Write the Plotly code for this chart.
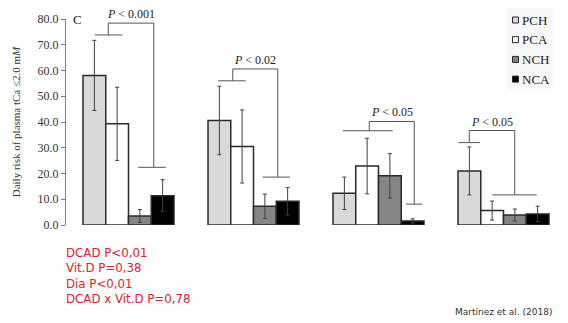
import plotly.graph_objects as go

# ---- data ----
groups = [0, 1, 2, 3]
series = ["PCH", "PCA", "NCH", "NCA"]
pch = [58.1, 40.6, 12.3, 21.0]
pch_err = [13.6, 13.3, 6.3, 9.3]
pca = [39.3, 30.5, 22.9, 5.6]
pca_err = [14.2, 14.2, 10.8, 3.7]
nch = [3.5, 7.3, 19.1, 3.9]
nch_err = [2.5, 4.7, 8.6, 2.3]
nca = [11.4, 9.2, 1.6, 4.3]
nca_err = [6.2, 5.3, 0.8, 3.0]
p_labels = ["<i>P</i> < 0.001", "<i>P</i> < 0.02", "<i>P</i> < 0.05", "<i>P</i> < 0.05"]
y_ticks = [0, 10, 20, 30, 40, 50, 60, 70, 80]
stats_text = ["DCAD P<0,01", "Vit.D P=0,38", "Dia P<0,01", "DCAD x Vit.D P=0,78"]
source_text = "Martinez et al. (2018)"

colors = ["#d9d9d9", "#ffffff", "#858585", "#000000"]
values = [pch, pca, nch, nca]
errors = [pch_err, pca_err, nch_err, nca_err]

SERIF = "Liberation Serif, Times New Roman, serif"
EDGE = "#2a2a2a"

fig = go.Figure()
for name, vals, errs, col in zip(series, values, errors, colors):
    fig.add_trace(go.Bar(
        x=groups, y=vals, name=name,
        marker=dict(color=col, line=dict(color=EDGE, width=1.5)),
        error_y=dict(type="data", array=errs, visible=True,
                     color="#404040", thickness=1, width=2),
        showlegend=False,
    ))

# ---- significance brackets (offsets relative to group centre) ----
# (left_x0, left_x1, left_y, stem_x, top_y, right_x, low_y, low_x0, low_x1)
brackets = [
    (-0.268, -0.050, 73.8, -0.162, 78.4, 0.202, 22.4, 0.078, 0.298),
    (-0.282, -0.062, 56.0, -0.166, 60.6, 0.194, 18.6, 0.074, 0.292),
    (-0.286, 0.114, 36.6, -0.074, 40.2, 0.286, 8.1, 0.220, 0.350),
    (-0.360, -0.188, 32.0, -0.274, 36.7, 0.090, 11.7, -0.090, 0.266),
]
LC = "#555555"
for g, (b, lab) in enumerate(zip(brackets, p_labels)):
    lx0, lx1, ly, sx, ty, rx, lowy, lowx0, lowx1 = b
    path = (f"M {g+lx0} {ly} L {g+lx1} {ly} M {g+sx} {ly} L {g+sx} {ty} "
            f"L {g+rx} {ty} L {g+rx} {lowy} M {g+lowx0} {lowy} L {g+lowx1} {lowy}")
    fig.add_shape(type="path", path=path, xref="x", yref="y",
                  line=dict(color=LC, width=1))
    fig.add_annotation(x=g + (sx + rx) / 2, y=ty, xref="x", yref="y",
                       text=lab, showarrow=False, yanchor="bottom", yshift=0,
                       font=dict(family=SERIF, size=12, color="#222"))

# panel letter
fig.add_annotation(x=-0.412, y=79.7, xref="x", yref="y", text="C", showarrow=False,
                   font=dict(family=SERIF, size=13, color="#222"))

# ---- custom legend ----
fig.add_shape(type="rect", xref="paper", yref="paper",
              x0=0.882, x1=0.975, y0=(225 - 89) / 206, y1=(225 - 8) / 206,
              fillcolor="#f8f8f8", line=dict(width=0), layer="below")
for i, (name, col) in enumerate(zip(series, colors)):
    cy = 20 + 19.7 * i
    fig.add_shape(type="rect", xref="paper", yref="paper",
                  x0=(512.5 - 66) / 500, x1=(518.5 - 66) / 500,
                  y0=(225 - cy - 3) / 206, y1=(225 - cy + 3) / 206,
                  fillcolor=col, line=dict(color=EDGE, width=1))
    fig.add_annotation(x=(519.5 - 66) / 500, y=(225 - cy) / 206, xref="paper", yref="paper",
                       text=name, showarrow=False, xanchor="left", yanchor="middle",
                       font=dict(family=SERIF, size=13, color="#222"))

# ---- bottom texts ----
fig.add_annotation(x=(64 - 66) / 500, y=(225 - 243.5) / 206, xref="paper", yref="paper",
                   text="<br>".join(stats_text),
                   showarrow=False, xanchor="left", yanchor="top", align="left",
                   font=dict(family="DejaVu Sans, Verdana, sans-serif", size=11.8, color="#e3202b"))
fig.add_annotation(x=(554 - 66) / 500, y=(225 - 311.5) / 206, xref="paper", yref="paper",
                   text=source_text, showarrow=False, xanchor="right", yanchor="middle",
                   font=dict(family="DejaVu Sans, Verdana, sans-serif", size=9, color="#333"))

fig.update_layout(
    width=568, height=323,
    margin=dict(l=66, r=2, t=19, b=98),
    paper_bgcolor="white", plot_bgcolor="white",
    barmode="group", bargap=0.272, bargroupgap=0,
    xaxis=dict(range=[-0.5, 3.5], visible=False, fixedrange=True),
    yaxis=dict(range=[0, 80], tickvals=y_ticks, tickformat=".1f",
               showline=True, linecolor="#7f7f7f", linewidth=1,
               ticks="outside", ticklen=4, tickcolor="#7f7f7f",
               showgrid=False, zeroline=False,
               tickfont=dict(family=SERIF, size=12, color="#333"),
               title=dict(text="Daily risk of plasma tCa ≤2.0 m<i>M</i>",
                          font=dict(family=SERIF, size=11, color="#333"),
                          standoff=14)),
)

fig.write_html("out.html")
